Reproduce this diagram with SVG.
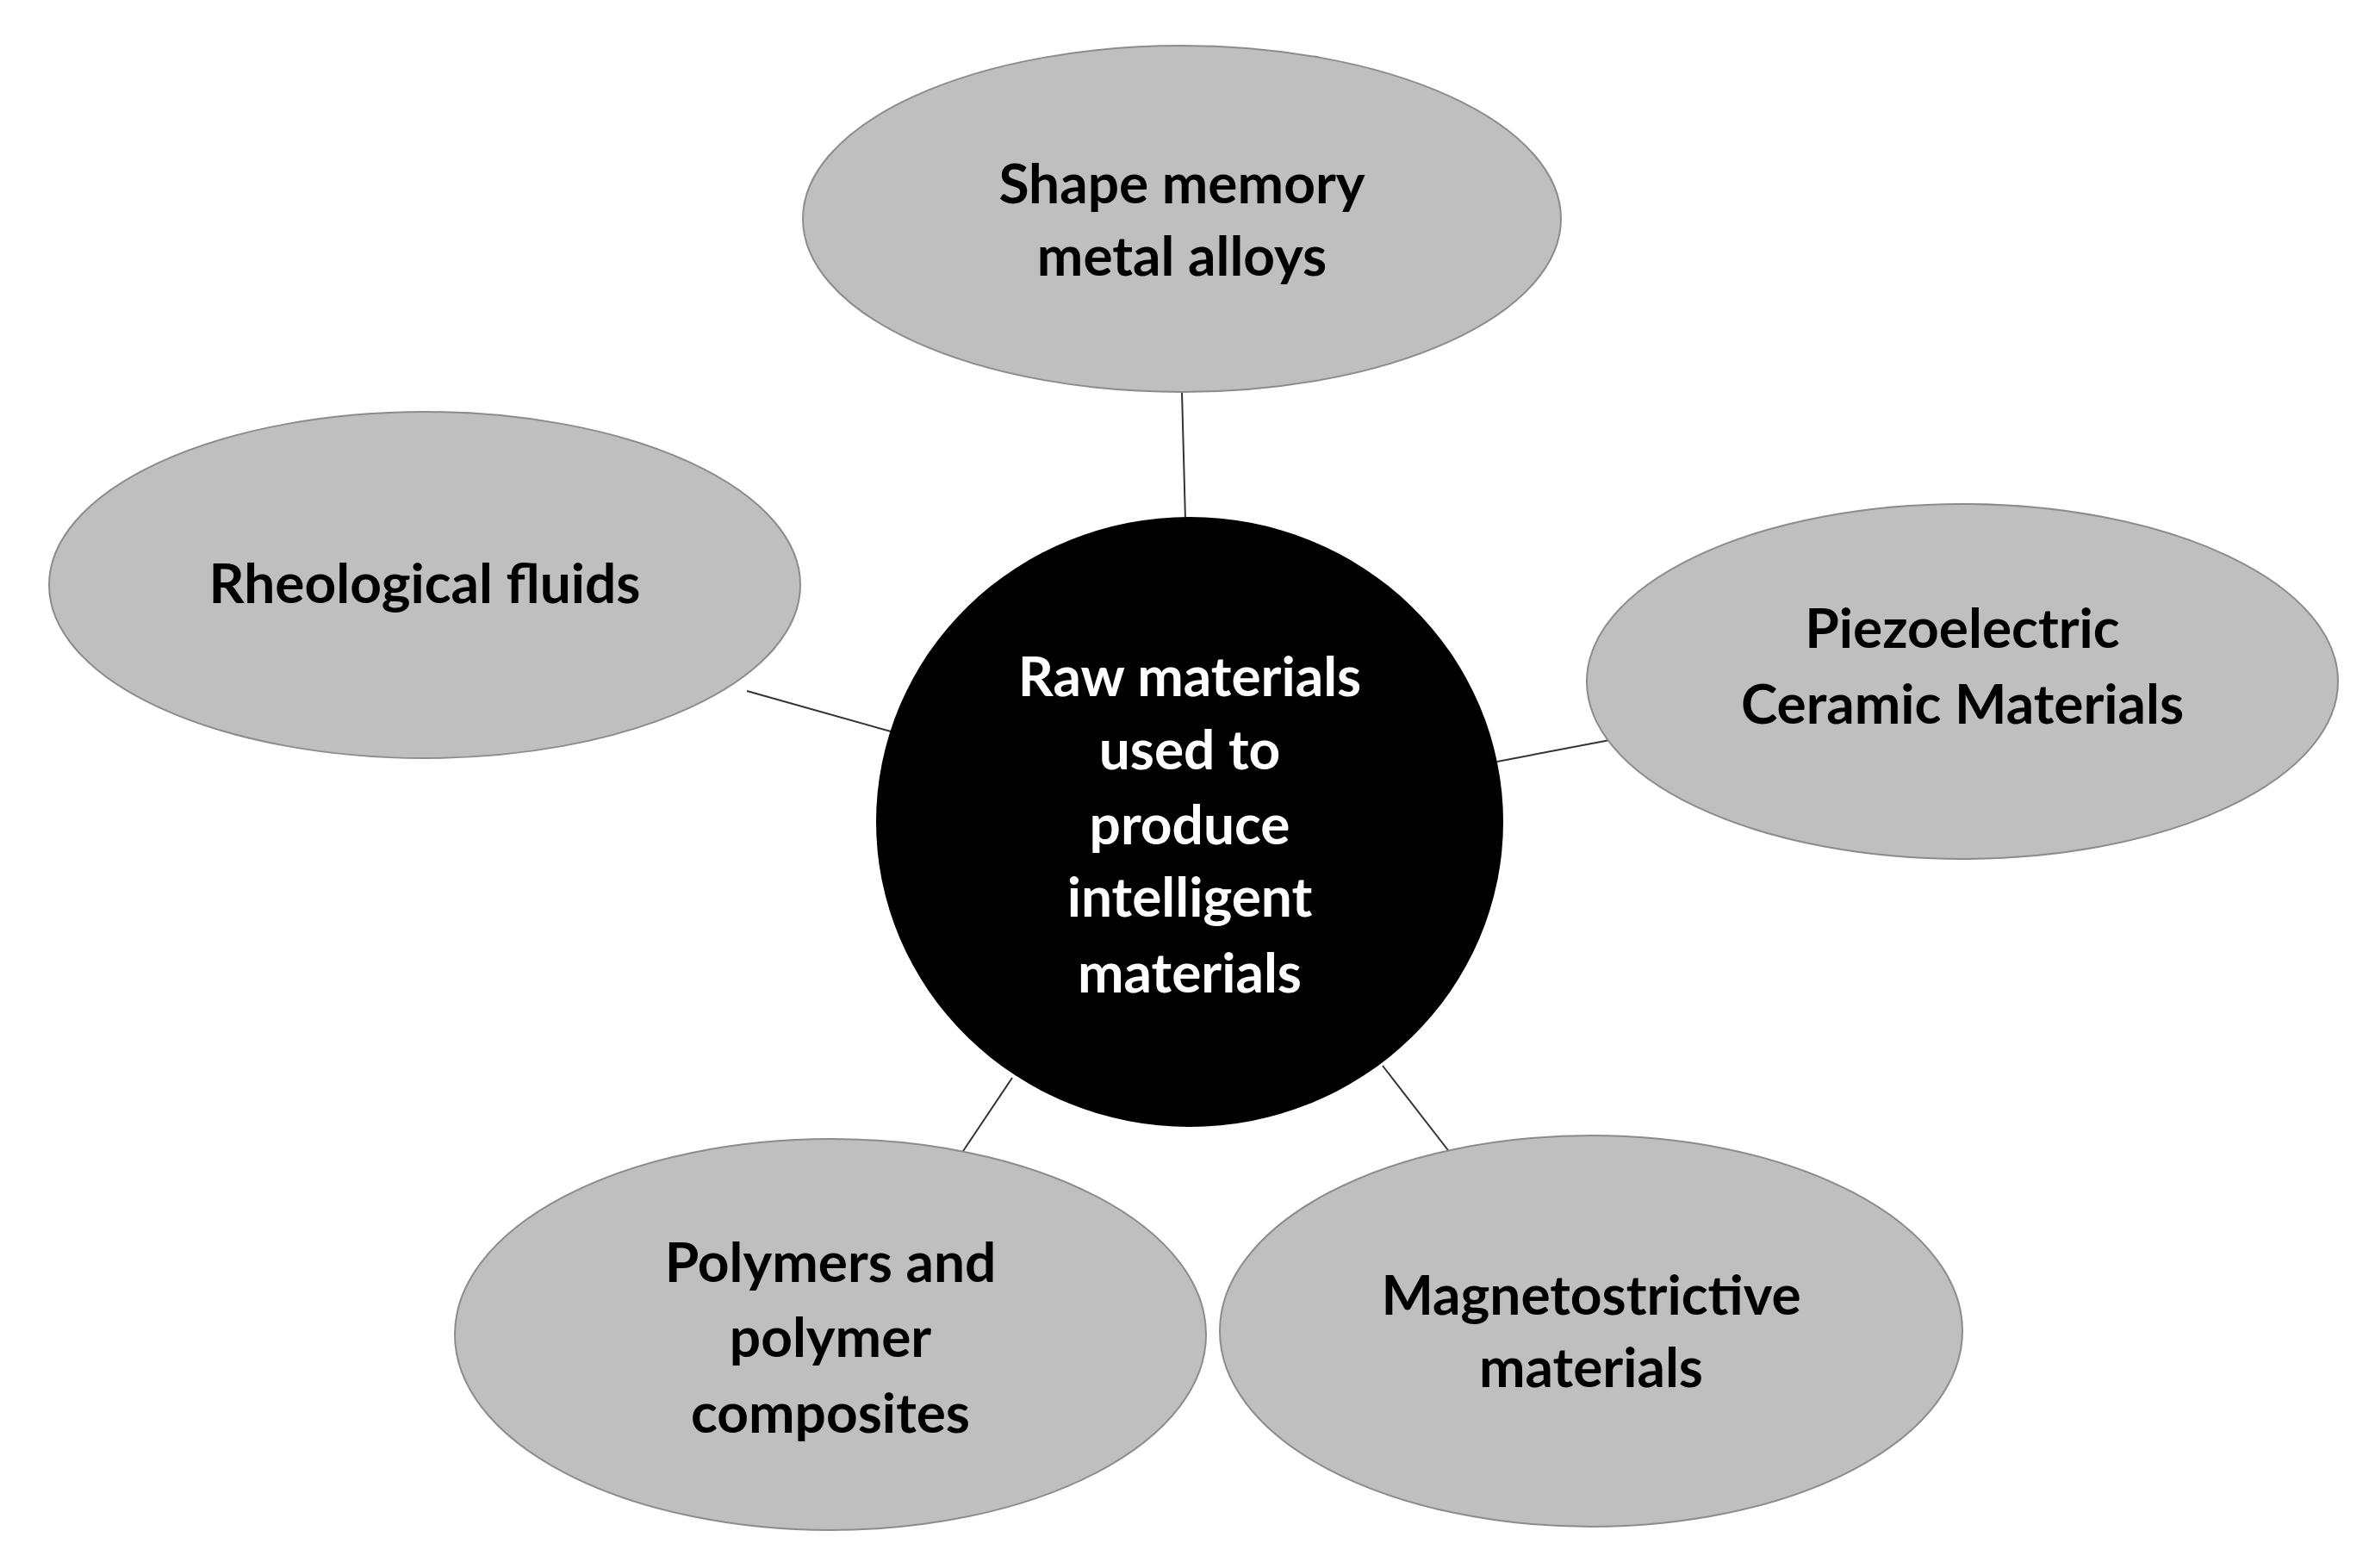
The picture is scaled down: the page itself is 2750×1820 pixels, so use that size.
<svg xmlns="http://www.w3.org/2000/svg" width="2750" height="1820" viewBox="0 0 2750 1820">
<style>
.n{fill:#bfbfbf;stroke:#8c8c8c;stroke-width:2}
.t{font-family:Lato,"Open Sans","Liberation Sans",sans-serif;font-weight:bold;font-size:64px;fill:#000;text-anchor:middle}
.w{fill:#fff}
.c line{stroke:#333;stroke-width:2}
</style>
<rect width="2750" height="1820" fill="#fff"/>
<g class="c" id="connectors">
<line x1="1372" y1="455" x2="1376" y2="604"/>
<line x1="867" y1="802" x2="1034" y2="849"/>
<line x1="1738" y1="884" x2="1874" y2="858"/>
<line x1="1175" y1="1251" x2="1114" y2="1342"/>
<line x1="1605" y1="1237" x2="1684" y2="1339"/>
</g>
<g id="shape-memory"><ellipse class="n" cx="1372" cy="254" rx="440" ry="201"/>
<text class="t" x="1372" y="236">Shape memory</text><text class="t" x="1372" y="320">metal alloys</text></g>
<g id="rheological"><ellipse class="n" cx="493" cy="679" rx="436" ry="201"/>
<text class="t" x="493" y="700">Rheological fluids</text></g>
<g id="piezo"><ellipse class="n" cx="2278" cy="791" rx="436" ry="206"/>
<text class="t" x="2278" y="752">Piezoelectric</text><text class="t" x="2278" y="840">Ceramic Materials</text></g>
<g id="polymers"><ellipse class="n" cx="964" cy="1549" rx="436" ry="227"/>
<text class="t" x="964" y="1488">Polymers and</text><text class="t" x="964" y="1575">polymer</text><text class="t" x="964" y="1663">composites</text></g>
<g id="magneto"><ellipse class="n" cx="1847" cy="1545" rx="431" ry="227"/>
<text class="t" x="1847" y="1526">Magnetostrictive</text><text class="t" x="1847" y="1610">materials</text></g>
<g id="center"><ellipse cx="1381" cy="954" rx="364" ry="354" fill="#000"/>
<text class="t w" x="1381" y="808">Raw materials</text><text class="t w" x="1381" y="893">used to</text><text class="t w" x="1381" y="980">produce</text><text class="t w" x="1381" y="1064">intelligent</text><text class="t w" x="1381" y="1152">materials</text></g>
</svg>
